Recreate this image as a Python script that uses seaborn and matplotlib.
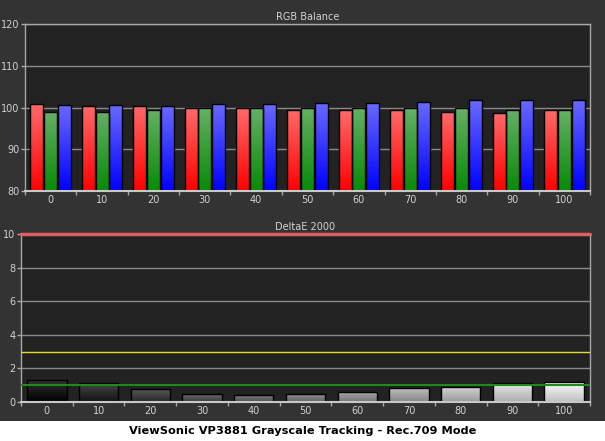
import numpy as np
import pandas as pd
import matplotlib
matplotlib.use("Agg")
import matplotlib.pyplot as plt
import seaborn as sns
from matplotlib.colors import LinearSegmentedColormap
from matplotlib.patches import Rectangle

# grayscale steps (% stimulus)
levels = ["0", "10", "20", "30", "40", "50", "60", "70", "80", "90", "100"]

# RGB balance (%)
red = [100.8, 100.4, 100.4, 99.8, 99.8, 99.5, 99.3, 99.3, 99.0, 98.7, 99.3]
green = [99.0, 99.0, 99.5, 99.8, 100.0, 100.0, 100.0, 99.8, 99.8, 99.5, 99.3]
blue = [100.6, 100.6, 100.4, 100.9, 100.9, 101.1, 101.1, 101.4, 101.7, 101.9, 101.9]

# DeltaE 2000 per step
delta_e = [1.33, 1.15, 0.80, 0.50, 0.44, 0.50, 0.62, 0.85, 0.91, 1.15, 1.21]

BG = "#333333"
PLOT_BG = "#222222"
TXT = "#d2d2d2"
EDGE = "#a8a8a8"
W, H = 605, 441

sns.set_theme(style="dark", rc={
    "axes.facecolor": PLOT_BG,
    "figure.facecolor": BG,
    "axes.edgecolor": EDGE,
    "axes.linewidth": 1.0,
    "text.color": TXT,
    "xtick.color": TXT,
    "ytick.color": TXT,
    "grid.color": "#8a8a8a",
})
plt.rcParams["font.family"] = ["DejaVu Sans"]


def gradient_bar(ax, bar, c_top, c_bot):
    x0, w = bar.get_x(), bar.get_width()
    lo = max(bar.get_y(), ax.get_ylim()[0])
    hi = bar.get_y() + bar.get_height()
    cmap = LinearSegmentedColormap.from_list("g", [c_bot, c_top])
    grad = np.linspace(0, 1, 128).reshape(-1, 1)
    im = ax.imshow(grad, cmap=cmap, extent=(x0, x0 + w, lo, hi), origin="lower",
                   aspect="auto", interpolation="bilinear", zorder=bar.get_zorder() - 0.01)
    im.set_clip_path(bar)
    bar.set_facecolor("none")


def style_axes(ax, yticks):
    ax.set_facecolor(PLOT_BG)
    ax.set_xlim(-0.5, len(levels) - 0.5)
    ax.set_ylim(yticks[0], yticks[-1])
    ax.set_yticks(yticks)
    ax.set_xlabel("")
    ax.set_ylabel("")
    ax.yaxis.grid(True, color="#8a8a8a", lw=1)
    ax.xaxis.grid(False)
    ax.set_axisbelow(True)
    ax.set_xticks(np.arange(-0.5, len(levels), 1.0), minor=True)
    ax.tick_params(axis="x", which="major", length=0, labelsize=7, pad=3, colors=TXT)
    ax.tick_params(axis="x", which="minor", length=3, width=1, color=EDGE, bottom=True)
    ax.tick_params(axis="y", which="major", length=3, width=1, color=EDGE, left=True,
                   labelsize=7, pad=1, colors=TXT)
    for s in ax.spines.values():
        s.set_color(EDGE)
        s.set_linewidth(1)
    ax.spines["bottom"].set_color("#c8c8c8")
    ax.spines["bottom"].set_linewidth(1.5)


fig = plt.figure(figsize=(W / 100, H / 100), dpi=100, facecolor=BG)
fig.add_artist(Rectangle((0, 0), 1, 20.5 / H, transform=fig.transFigure,
                         facecolor="white", edgecolor="none", zorder=0))

# --- RGB balance ---
ax1 = fig.add_axes([25 / W, (H - 191) / H, (590 - 25) / W, (191 - 24) / H])
rgb = pd.DataFrame({
    "level": levels * 3,
    "channel": ["R"] * len(levels) + ["G"] * len(levels) + ["B"] * len(levels),
    "value": red + green + blue,
})
sns.barplot(data=rgb, x="level", y="value", hue="channel", palette=["#ff0000", "#008800", "#0000ff"],
            width=0.8, gap=0.05, edgecolor="black", linewidth=1, errorbar=None, legend=False, ax=ax1)
style_axes(ax1, [80, 90, 100, 110, 120])
ax1.set_title("RGB Balance", fontsize=7, color=TXT, pad=3)
grads = [("#ff6a6a", "#ff0000"), ("#66b066", "#078a07"), ("#6a6aff", "#0000ff")]
for cont, (ct, cb) in zip(ax1.containers, grads):
    for bar in cont:
        gradient_bar(ax1, bar, ct, cb)
ax1.set_xlim(-0.5, len(levels) - 0.5)
ax1.set_ylim(80, 120)

# --- DeltaE 2000 ---
ax2 = fig.add_axes([21 / W, (H - 402) / H, (590 - 21) / W, (402 - 234) / H])
sns.barplot(x=levels, y=delta_e, color="gray", width=0.76, edgecolor="black",
            linewidth=1, errorbar=None, ax=ax2)
style_axes(ax2, [0, 2, 4, 6, 8, 10])
ax2.set_title("DeltaE 2000", fontsize=7, color=TXT, pad=3)
for lvl, bar in zip(levels, ax2.containers[0]):
    b = int(lvl) / 100
    top = 0.2 + 0.8 * b
    bot = 0.75 * b
    gradient_bar(ax2, bar, (top, top, top), (bot, bot, bot))
ax2.set_xlim(-0.5, len(levels) - 0.5)
ax2.set_ylim(0, 10)
ax2.axhline(10, color="#e06060", lw=2.5, zorder=5, clip_on=False)
ax2.axhline(3, color="#e6e020", lw=1, zorder=5)
ax2.axhline(1, color="#1d8a1d", lw=1.5, zorder=5)

fig.text(0.5, 10.5 / H, "ViewSonic VP3881 Grayscale Tracking - Rec.709 Mode",
         ha="center", va="center", fontsize=8.2, fontweight="bold", color="black")

fig.savefig("out.png", dpi=100, facecolor=BG)
